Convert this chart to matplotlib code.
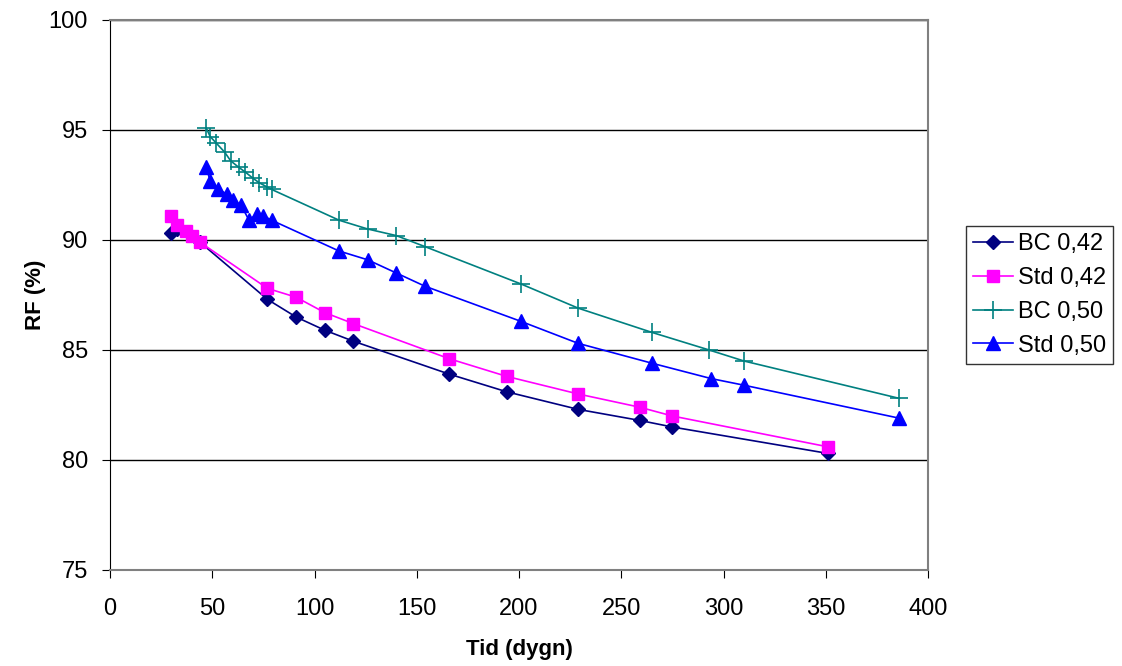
import matplotlib.pyplot as plt

# BC 0,42
bc42_x = [30, 33, 44, 77, 91, 105, 119, 166, 194, 229, 259, 275, 351]
bc42_y = [90.3, 90.5, 89.9, 87.3, 86.5, 85.9, 85.4, 83.9, 83.1, 82.3, 81.8, 81.5, 80.3]

# Std 0,42
std42_x = [30, 33, 37, 40, 44, 77, 91, 105, 119, 166, 194, 229, 259, 275, 351]
std42_y = [91.1, 90.7, 90.4, 90.2, 89.9, 87.8, 87.4, 86.7, 86.2, 84.6, 83.8, 83.0, 82.4, 82.0, 80.6]

# BC 0,50
bc50_x = [47, 49, 52, 56, 59, 63, 66, 70, 73, 77, 79, 112, 126, 140, 154, 201, 229, 265, 293, 310, 386]
bc50_y = [95.1, 94.7, 94.4, 94.0, 93.6, 93.3, 93.1, 92.8, 92.6, 92.4, 92.3,
          90.9, 90.5, 90.2, 89.7, 88.0, 86.9, 85.8, 85.0, 84.5, 82.8]

# Std 0,50
std50_x = [47, 49, 53, 57, 60, 64, 68, 72, 75, 79, 112, 126, 140, 154, 201, 229, 265, 294, 310, 386]
std50_y = [93.3, 92.7, 92.3, 92.1, 91.8, 91.6, 90.9, 91.2, 91.1, 90.9,
           89.5, 89.1, 88.5, 87.9, 86.3, 85.3, 84.4, 83.7, 83.4, 81.9]

plt.rcParams['font.family'] = ['Liberation Sans', 'DejaVu Sans']

fig = plt.figure(figsize=(11.22, 6.66), dpi=100)
ax = fig.add_axes([110 / 1122, 1 - 570 / 666, 818 / 1122, 550 / 666])

ax.plot(bc42_x, bc42_y, color="#000080", marker="D", markersize=7, linewidth=1.2, label="BC 0,42")
ax.plot(std42_x, std42_y, color="#FF00FF", marker="s", markersize=9, linewidth=1.2, label="Std 0,42")
ax.plot(bc50_x, bc50_y, color="#008080", marker="+", markersize=13, markeredgewidth=1.2, linewidth=1.2, label="BC 0,50")
ax.plot(std50_x, std50_y, color="#0000FF", marker="^", markersize=10, linewidth=1.2, label="Std 0,50")

ax.set_xlim(0, 400)
ax.set_ylim(75, 100)
ax.set_xticks(range(0, 401, 50))
ax.set_yticks(range(75, 101, 5))
ax.yaxis.grid(True, color="black", linewidth=1)
ax.set_axisbelow(True)
for s in ["top", "right", "bottom"]:
    ax.spines[s].set_color("#808080")
    ax.spines[s].set_linewidth(1.5)
ax.spines["left"].set_color("black")
ax.tick_params(axis="both", labelsize=17, direction="out", length=6, color="black")
ax.tick_params(axis="x", pad=14)
ax.tick_params(axis="y", pad=10)

ax.set_xlabel("Tid (dygn)", fontsize=16, fontweight="bold", labelpad=14)
ax.set_ylabel("RF (%)", fontsize=16, fontweight="bold", labelpad=2)

leg = ax.legend(loc="center left", bbox_to_anchor=(1.0465, 0.5), fontsize=17, frameon=True,
                fancybox=False, edgecolor="black", handlelength=1.7, borderpad=0.3,
                labelspacing=0.5, handletextpad=0.2, borderaxespad=0)
leg.get_frame().set_linewidth(1)

fig.savefig("out.png", dpi=100)
